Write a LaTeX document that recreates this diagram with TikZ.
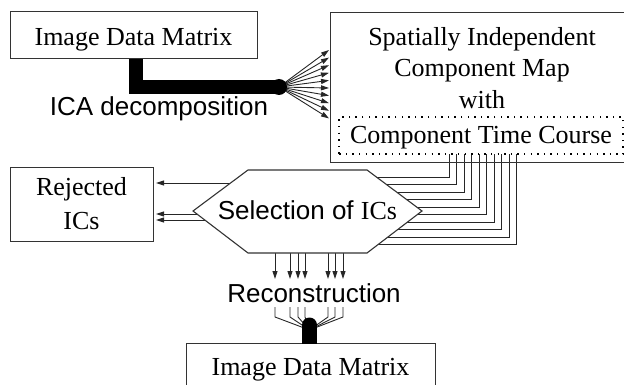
\documentclass[tikz,border=0pt]{standalone}
\usepackage{fontspec}
\setmainfont{Liberation Serif}
\setsansfont{Liberation Sans}
\usetikzlibrary{arrows.meta,calc}
\pgfdeclarelayer{bg}
\pgfsetlayers{bg,main}
\begin{document}
\begin{tikzpicture}[x=1pt,y=-1pt,
  box/.style={draw=black!80, line width=1.1pt, fill=white, inner sep=0pt, anchor=north west},
  lbl/.style={anchor=base, inner sep=0pt, font=\fontsize{26}{30}\selectfont},
  slbl/.style={anchor=base, inner sep=0pt, font=\fontsize{26}{30}\selectfont\sffamily},
  conn/.style={draw=black!85, line width=0.9pt},
  arr/.style={conn, -{Triangle[length=8pt,width=5pt]}},
  dotbox/.style={draw=black, line width=2.4pt, dash pattern=on 1.4pt off 5.2pt, inner sep=0pt, anchor=north west},
  heavy/.style={line width=14pt, draw=black},
  hexa/.style={draw=black!80, line width=1.1pt, fill=white}
]
\useasboundingbox (0,0) rectangle (624,385);

% boxes
\node[box, minimum width=247pt, minimum height=47pt] (idm) at (10,11) {};
\node[lbl] (idmt) at (133.5,46) {Image Data Matrix};

\node[box, fill=none, minimum width=320pt, minimum height=150pt] (sicm) at (330,12) {};
\node[lbl] (s1) at (482,46) {Spatially Independent};
\node[lbl] (s2) at (482,77) {Component Map};
\node[lbl] (s3) at (482,109) {with};
\node[dotbox, minimum width=284pt, minimum height=37pt] (dot) at (338,116) {};
\node[lbl] (s4) at (481,144) {Component Time Course};

\node[box, minimum width=143pt, minimum height=74pt] (rej) at (10,167) {};
\node[lbl] (r1) at (81.5,196) {Rejected};
\node[lbl] (r2) at (81.5,229) {ICs};

\draw[hexa] (193,211) coordinate (hw) -- (248,170) coordinate (hnw) -- (367,170) coordinate (hne)
  -- (422,211) coordinate (he) -- (367,253) coordinate (hse) -- (248,253) coordinate (hsw) -- cycle;
\node[slbl] (sel) at (307.5,219) {Selection of {\rmfamily ICs}};

\node[slbl] (ica) at (159,116) {ICA decomposition};
\node[slbl] (rec) at (314,302) {Reconstruction};

\node[box, minimum width=249pt, minimum height=60pt] (idm2) at (186,343) {};
\node[lbl] (idm2t) at (310.5,375) {Image Data Matrix};

\coordinate (blob) at (279,87);
\coordinate (sink) at (309.5,330);

% blobs on top
\fill[black] (blob) circle[radius=8pt];
\fill[black] (302,343.5) rectangle (317,325);
\fill[black] (309.5,325) circle[radius=7.5pt];

\begin{pgfonlayer}{bg}
  % thick ICA line
  \draw[heavy] ($(idm.south)+(2,-10)$) |- (blob);
  % fan into component map
  \foreach \i in {0,...,9}
    \draw[arr] (blob) -- ($(sicm.north west)+(-1,{38+7.6*\i})$);
  % time course lines into selection hexagon
  \foreach \i in {0,...,9}
    \draw[conn] ($(dot.south west)+({111+7.5*\i},-1)$) |- (330,{177+7.5*\i});
  % to rejected ICs
  \foreach \yy in {183,214,220}
    \draw[arr] (270,\yy) -- ($(rej.north east)+(2,{\yy-167})$);
  % down to reconstruction
  \foreach \xx in {275,290,298,305,328,335,343}
    \draw[arr] (\xx,250) -- (\xx,279);
  % converge to image matrix
  \foreach \xx in {275,290,298,305,328,335,343}
    \draw[conn] (\xx,307) -- (\xx,317) -- (sink);
\end{pgfonlayer}
\end{tikzpicture}
\end{document}
